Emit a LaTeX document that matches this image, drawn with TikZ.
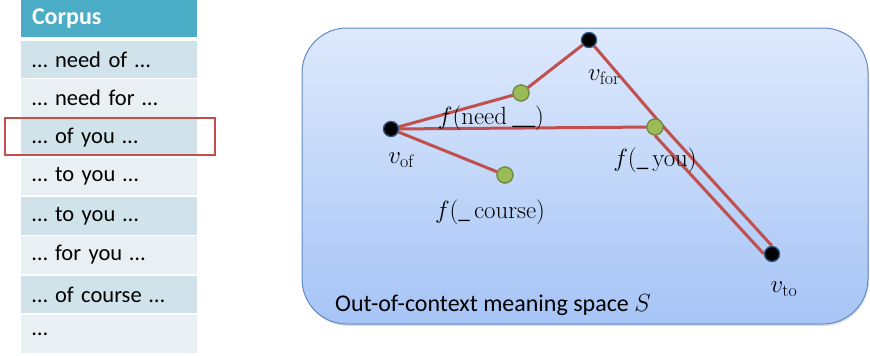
\documentclass[tikz,border=0pt]{standalone}
\usepackage[no-math]{fontspec}
\setmainfont{Carlito}
\usetikzlibrary{shadows}
\definecolor{corpushead}{RGB}{75,172,198}
\definecolor{rowdark}{RGB}{208,227,234}
\definecolor{rowlight}{RGB}{233,240,244}
\definecolor{redline}{RGB}{192,80,77}
\definecolor{spacetop}{RGB}{222,233,252}
\definecolor{spacebot}{RGB}{166,196,246}
\definecolor{spaceedge}{RGB}{95,139,201}
\definecolor{greenfill}{RGB}{155,187,89}
\definecolor{greenedge}{RGB}{113,137,63}
\definecolor{dotedge}{RGB}{56,93,138}
% upright subscript word, a bit larger than scriptstyle
\newcommand{\wsub}[1]{\hbox{\fontsize{18}{18}\fontfamily{lmr}\selectfont #1}}

\begin{document}
\begin{tikzpicture}[x=1pt, y=-1pt,
      row/.style={minimum width=176pt, minimum height=37.5pt, inner sep=0pt,
        text width=154pt, align=left, font=\fontsize{22.5}{26}\selectfont},
      dark/.style={row, fill=rowdark},
      light/.style={row, fill=rowlight},
      hlbox/.style={draw=redline, line width=1.8pt, minimum width=210pt, minimum height=37pt, inner sep=0pt},
      space/.style={draw=spaceedge, line width=1pt, rounded corners=45pt,
        top color=spacetop, bottom color=spacebot,
        drop shadow={opacity=0.25, shadow xshift=1pt, shadow yshift=-2pt},
        minimum width=566pt, minimum height=296pt, inner sep=0pt},
      word/.style={circle, fill=black, draw=dotedge, line width=1.2pt, minimum size=15pt, inner sep=0pt},
      ctx/.style={circle, fill=greenfill, draw=greenedge, line width=1.2pt, minimum size=16pt, inner sep=0pt},
      link/.style={draw=redline, line width=3pt},
      lbl/.style={inner sep=0pt, font=\fontsize{24}{28}\selectfont},
      mlbl/.style={inner sep=0pt, font=\fontsize{23}{27}\selectfont}
    ]
    \useasboundingbox (0,0) rectangle (870,356);

    % corpus table on the left
    \node[row, fill=corpushead, text=white, font=\fontsize{24}{28}\selectfont\bfseries] (head) at (109,18.5) {Corpus};
    \node[dark]  (r1) at (109,59.5)  {… need of …};
    \node[light] (r2) at (109,98)    {… need for …};
    \node[dark]  (r3) at (109,137.5) {… of you …};
    \node[light] (r4) at (109,176.5) {… to you …};
    \node[dark]  (r5) at (109,216)   {… to you …};
    \node[light] (r6) at (109,255)   {… for you …};
    \node[dark]  (r7) at (109,294.5) {… of course …};
    \node[light] (r8) at (109,334)   {…};
    \node[hlbox] (pick) at (110,136.5) {};

    % meaning space
    \node[space] (S) at (585,176) {};
    \node[lbl] (Slabel) at (493,305) {Out-of-context meaning space $S$};

    \node[word] (vof)  at (391,129) {};
    \node[word] (vfor) at (589,40)  {};
    \node[word] (vto)  at (772,254) {};
    \node[ctx]  (fneed)   at (521,93)  {};
    \node[ctx]  (fyou)    at (655,127) {};
    \node[ctx]  (fcourse) at (505,175) {};

    % edges
    \draw[link] (vof) -- (fneed) -- (vfor);
    \draw[link] (vof) -- (fyou);
    \draw[link] (vof) -- (fcourse);
    \draw[link] (vfor) -- (fyou.east) -- (vto.north);
    \draw[link] (fyou.south) -- (vto.west);
    \node[word] at (vof) {};
    \node[word] at (vfor) {};
    \node[word] at (vto) {};
    \node[ctx] at (fneed) {};
    \node[ctx] at (fyou) {};
    \node[ctx] at (fcourse) {};

    % labels
    \node[mlbl] (lof)     at (401,160) {$v_{\wsub{of}}$};
    \node[mlbl] (lfor)    at (604,77)  {$v_{\wsub{for}}$};
    \node[mlbl] (lto)     at (784,289) {$v_{\wsub{to}}$};
    \node[mlbl] (lneed)   at (491,118) {$f(\mathrm{need}\ \_\_)$};
    \node[mlbl] (lyou)    at (655,160) {$f(\_\,\mathrm{you})$};
    \node[mlbl] (lcourse) at (490,212) {$f(\_\,\mathrm{course})$};
  \end{tikzpicture}
\end{document}
